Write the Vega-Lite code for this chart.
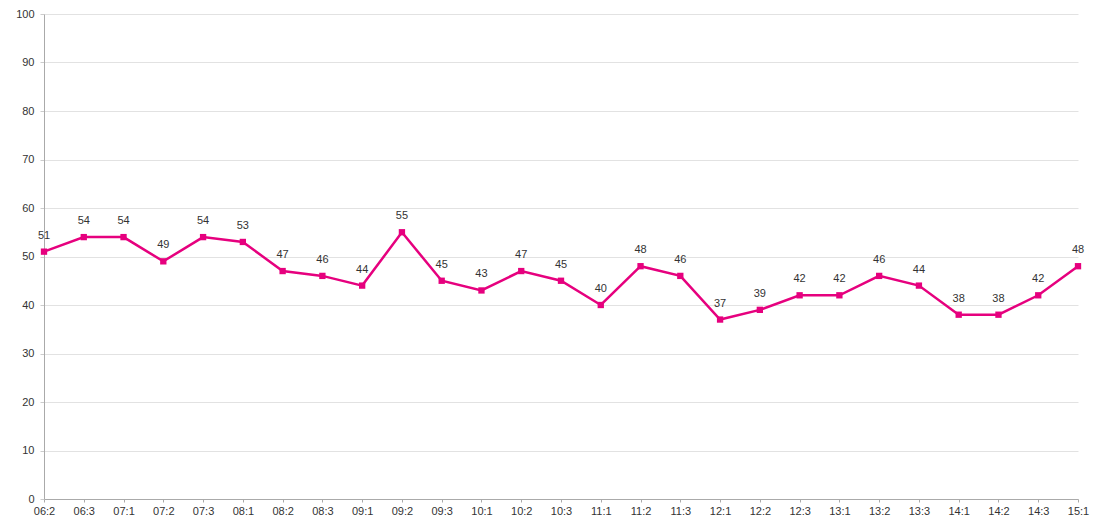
{
  "$schema": "https://vega.github.io/schema/vega-lite/v6.json",
  "autosize": "none",
  "width": 1034,
  "height": 485,
  "padding": {"left": 44, "top": 14, "right": 16, "bottom": 24},
  "background": "white",
  "config": {"view": {"stroke": null}, "font": "Liberation Sans"},
  "data": {"values": [
    {"q": "06:2", "v": 51}, {"q": "06:3", "v": 54}, {"q": "07:1", "v": 54},
    {"q": "07:2", "v": 49}, {"q": "07:3", "v": 54}, {"q": "08:1", "v": 53},
    {"q": "08:2", "v": 47}, {"q": "08:3", "v": 46}, {"q": "09:1", "v": 44},
    {"q": "09:2", "v": 55}, {"q": "09:3", "v": 45}, {"q": "10:1", "v": 43},
    {"q": "10:2", "v": 47}, {"q": "10:3", "v": 45}, {"q": "11:1", "v": 40},
    {"q": "11:2", "v": 48}, {"q": "11:3", "v": 46}, {"q": "12:1", "v": 37},
    {"q": "12:2", "v": 39}, {"q": "12:3", "v": 42}, {"q": "13:1", "v": 42},
    {"q": "13:2", "v": 46}, {"q": "13:3", "v": 44}, {"q": "14:1", "v": 38},
    {"q": "14:2", "v": 38}, {"q": "14:3", "v": 42}, {"q": "15:1", "v": 48}
  ]},
  "encoding": {
    "x": {"field": "q", "type": "ordinal", "sort": null, "scale": {"type": "point", "padding": 0},
      "axis": {"title": null, "labelAngle": 0, "labelFontSize": 11, "labelColor": "#333", "domainColor": "#aaa", "tickColor": "#aaa", "tickSize": 3, "labelPadding": 3, "grid": false}},
    "y": {"field": "v", "type": "quantitative", "scale": {"domain": [0, 100]},
      "axis": {"title": null, "values": [0,10,20,30,40,50,60,70,80,90,100], "labelFontSize": 11, "labelColor": "#333", "domainColor": "#aaa", "tickColor": "#ccc", "tickSize": 4, "labelPadding": 6, "gridColor": "#e2e2e2"}}
  },
  "layer": [
    {"mark": {"type": "line", "color": "#e6007e", "strokeWidth": 2.5}},
    {"mark": {"type": "square", "color": "#e6007e", "filled": true, "opacity": 1, "size": 40}},
    {"mark": {"type": "text", "dy": -16, "fontSize": 11, "color": "#333"}, "encoding": {"text": {"field": "v"}}}
  ]
}
